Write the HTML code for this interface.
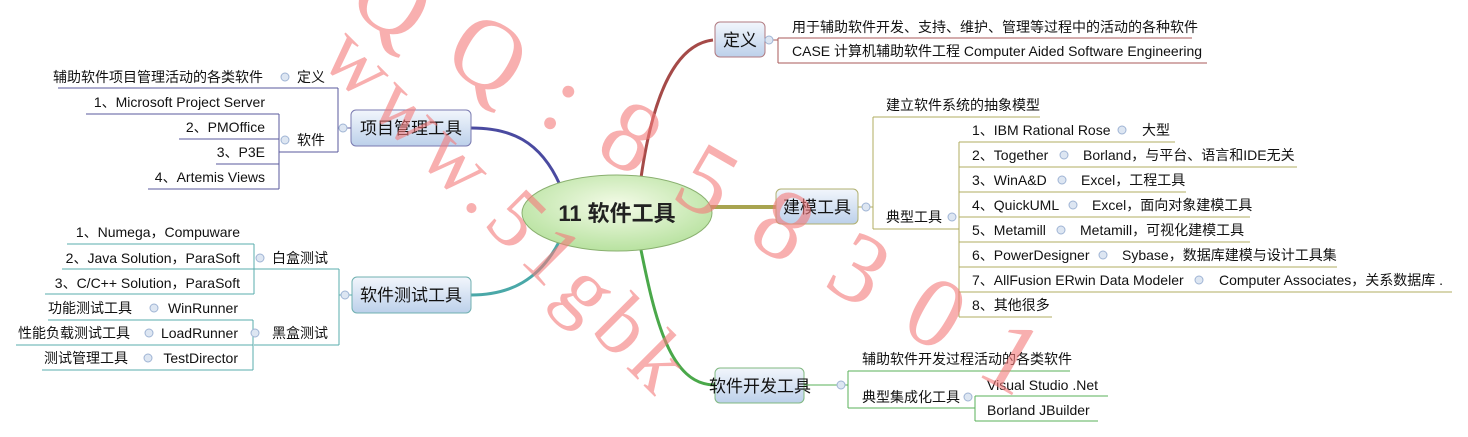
<!DOCTYPE html>
<html><head><meta charset="utf-8"><style>
html,body{margin:0;padding:0;background:#fff;}
svg{display:block;}
text{font-family:"Liberation Sans","Noto Sans CJK SC",sans-serif;font-size:14px;fill:#111;}
.big{font-size:17px;}
</style></head><body>
<svg width="1468" height="437" viewBox="0 0 1468 437" xmlns="http://www.w3.org/2000/svg">
<defs>
<linearGradient id="bx" x1="0" y1="0" x2="0" y2="1"><stop offset="0" stop-color="#f2f6fc"/><stop offset="1" stop-color="#bcd0ea"/></linearGradient>
<radialGradient id="el" cx="0.5" cy="0.4" r="0.6"><stop offset="0" stop-color="#f4fbe8"/><stop offset="1" stop-color="#b8e2a0"/></radialGradient>
</defs>

<path d="M640,185 C650,110 670,45 713,40" fill="none" stroke="#a54a48" stroke-width="3"/>
<path d="M700,207 C740,207 750,207 776,207" fill="none" stroke="#a8a450" stroke-width="4"/>
<path d="M640,245 C655,320 670,385 715,385" fill="none" stroke="#4aa84a" stroke-width="3"/>
<path d="M560,185 C540,140 510,128 471,128" fill="none" stroke="#4a4aa0" stroke-width="3"/>
<path d="M560,240 C540,280 510,295 471,295" fill="none" stroke="#4aa8a8" stroke-width="3"/>

<ellipse cx="617" cy="213" rx="95" ry="38" fill="url(#el)" stroke="#8ab070" stroke-width="1"/>
<text x="617" y="221" text-anchor="middle" style="font-size:22px;font-weight:bold;fill:#222">11 软件工具</text>

<rect x="715" y="22" width="50" height="35" rx="5" fill="url(#bx)" stroke="#b07a80"/>
<text x="740" y="46" text-anchor="middle" class="big">定义</text>
<rect x="776" y="189" width="82" height="35" rx="5" fill="url(#bx)" stroke="#b0b070"/>
<text x="817" y="213" text-anchor="middle" class="big">建模工具</text>
<rect x="715" y="368" width="89" height="35" rx="5" fill="url(#bx)" stroke="#80b880"/>
<text x="760" y="392" text-anchor="middle" class="big">软件开发工具</text>
<rect x="351" y="110" width="120" height="36" rx="5" fill="url(#bx)" stroke="#7a7ab0"/>
<text x="411" y="134" text-anchor="middle" class="big">项目管理工具</text>
<rect x="352" y="277" width="119" height="36" rx="5" fill="url(#bx)" stroke="#70b0b0"/>
<text x="411" y="301" text-anchor="middle" class="big">软件测试工具</text>

<g fill="none" stroke="#a85a58" stroke-width="1">
<path d="M765,40 H778 M778,38 V63 M778,38 H1192 M778,63 H1207"/>
</g>
<text x="792" y="32">用于辅助软件开发、支持、维护、管理等过程中的活动的各种软件</text>
<text x="792" y="56">CASE 计算机辅助软件工程 Computer Aided Software Engineering</text>

<g fill="none" stroke="#b0ac60" stroke-width="1">
<path d="M858,207 H873 M873,117 V229 M873,117 H1040 M873,229 H959"/>
<path d="M959,142 V317 M959,142 H1175 M959,167 H1297 M959,192 H1186 M959,217 H1250 M959,242 H1250 M959,267 H1337 M959,292 H1452 M959,317 H1052"/>
</g>
<text x="886" y="110">建立软件系统的抽象模型</text>
<text x="886" y="222">典型工具</text>
<text x="972" y="135">1、IBM Rational Rose</text><text x="1142" y="135">大型</text>
<text x="972" y="160">2、Together</text><text x="1083" y="160">Borland，与平台、语言和IDE无关</text>
<text x="972" y="185">3、WinA&amp;D</text><text x="1081" y="185">Excel，工程工具</text>
<text x="972" y="210">4、QuickUML</text><text x="1092" y="210">Excel，面向对象建模工具</text>
<text x="972" y="235">5、Metamill</text><text x="1080" y="235">Metamill，可视化建模工具</text>
<text x="972" y="260">6、PowerDesigner</text><text x="1122" y="260">Sybase，数据库建模与设计工具集</text>
<text x="972" y="285">7、AllFusion ERwin Data Modeler</text><text x="1219" y="285">Computer Associates，关系数据库 .</text>
<text x="972" y="310">8、其他很多</text>

<g fill="none" stroke="#5ab05a" stroke-width="1">
<path d="M804,385 H848 M848,371 V408 M848,371 H1070 M848,408 H975 M975,396 V421 M975,396 H1108 M975,421 H1098"/>
</g>
<text x="862" y="364">辅助软件开发过程活动的各类软件</text>
<text x="862" y="402">典型集成化工具</text>
<text x="987" y="390">Visual Studio .Net</text>
<text x="987" y="415">Borland JBuilder</text>

<g fill="none" stroke="#5a5a9c" stroke-width="1">
<path d="M338,128 H351 M338,88 V152 M58,88 H338 M279,152 H338 M279,114 V189 M86,114 H279 M179,139 H279 M216,164 H279 M148,189 H279"/>
</g>
<text x="263" y="82" text-anchor="end">辅助软件项目管理活动的各类软件</text><text x="297" y="82">定义</text>
<text x="297" y="145">软件</text>
<text x="265" y="107" text-anchor="end">1、Microsoft Project Server</text>
<text x="265" y="132" text-anchor="end">2、PMOffice</text>
<text x="265" y="157" text-anchor="end">3、P3E</text>
<text x="265" y="182" text-anchor="end">4、Artemis Views</text>

<g fill="none" stroke="#5aacac" stroke-width="1">
<path d="M339,295 H352 M339,269 V345 M254,269 H339 M254,345 H339 M254,244 V294 M67,244 H254 M62,269 H254 M45,294 H254 M253,320 V370 M48,320 H253 M16,345 H253 M42,370 H253"/>
</g>
<text x="272" y="263">白盒测试</text>
<text x="272" y="338">黑盒测试</text>
<text x="240" y="237" text-anchor="end">1、Numega，Compuware</text>
<text x="240" y="263" text-anchor="end">2、Java Solution，ParaSoft</text>
<text x="240" y="288" text-anchor="end">3、C/C++ Solution，ParaSoft</text>
<text x="48" y="313">功能测试工具</text><text x="238" y="313" text-anchor="end">WinRunner</text>
<text x="18" y="338">性能负载测试工具</text><text x="238" y="338" text-anchor="end">LoadRunner</text>
<text x="44" y="363">测试管理工具</text><text x="238" y="363" text-anchor="end">TestDirector</text>

<g fill="#dde6f2" stroke="#9fb4d4" stroke-width="1">
<circle cx="285" cy="77" r="4"/><circle cx="285" cy="140" r="4"/><circle cx="343" cy="128" r="4"/>
<circle cx="260" cy="258" r="4"/><circle cx="255" cy="333" r="4"/><circle cx="345" cy="295" r="4"/>
<circle cx="154" cy="308" r="4"/><circle cx="149" cy="333" r="4"/><circle cx="148" cy="358" r="4"/>
<circle cx="769" cy="40" r="4"/><circle cx="866" cy="207" r="4"/><circle cx="952" cy="217" r="4"/>
<circle cx="1122" cy="130" r="4"/><circle cx="1064" cy="155" r="4"/><circle cx="1062" cy="180" r="4"/>
<circle cx="1073" cy="205" r="4"/><circle cx="1061" cy="230" r="4"/><circle cx="1103" cy="255" r="4"/>
<circle cx="1199" cy="280" r="4"/><circle cx="841" cy="385" r="4"/><circle cx="968" cy="397" r="4"/>
</g>

<text x="0" y="0" transform="translate(345,10) rotate(30)" style="fill:#f47a7a;fill-opacity:0.6;font-size:100px;font-family:'Liberation Serif',serif;letter-spacing:38px">QQ:858301</text>
<text x="0" y="0" transform="translate(318,60) rotate(45)" style="fill:#f47a7a;fill-opacity:0.6;font-size:85px;font-family:'Liberation Serif',serif;letter-spacing:8px">www.51gbk</text>
</svg>
</body></html>
